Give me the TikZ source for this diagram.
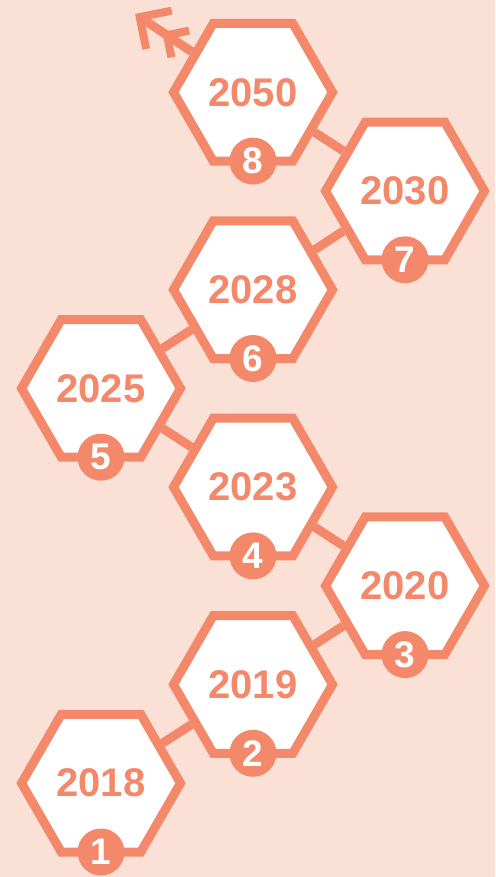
\documentclass[tikz,border=0pt]{standalone}
\usepackage{fontspec}
\setmainfont{Liberation Sans}
\usetikzlibrary{shapes.geometric,arrows.meta,calc}
\definecolor{peach}{HTML}{FBE0D6}
\definecolor{coral}{HTML}{F3896A}

\begin{document}
\begin{tikzpicture}[x=1pt, y=1pt,
    hexbox/.style={regular polygon, regular polygon sides=6,
        minimum size=159pt, inner sep=0pt,
        draw=coral, line width=9pt, fill=white, text=coral,
        font=\fontsize{40}{42}\selectfont\bfseries},
    numdot/.style={circle, fill=coral, minimum size=47pt, inner sep=0pt,
        text=white, font=\fontsize{37}{39}\selectfont\bfseries},
    link/.style={draw=coral, line width=9pt}]
    \fill[peach] (0,0) rectangle (495,877);
    \useasboundingbox (0,0) rectangle (495,877);

    % the years
    \node[hexbox] (h2018) at (101, 93.8) {2018};
    \node[hexbox] (h2019) at (253, 192.5) {2019};
    \node[hexbox] (h2020) at (405, 291.2) {2020};
    \node[hexbox] (h2023) at (253, 389.9) {2023};
    \node[hexbox] (h2025) at (101, 488.6) {2025};
    \node[hexbox] (h2028) at (253, 587.3) {2028};
    \node[hexbox] (h2030) at (405, 686) {2030};
    \node[hexbox] (h2050) at (253, 784.7) {2050};

    % links
    \draw[link] (h2018) -- (h2019);
    \draw[link] (h2019) -- (h2020);
    \draw[link] (h2020) -- (h2023);
    \draw[link] (h2023) -- (h2025);
    \draw[link] (h2025) -- (h2028);
    \draw[link] (h2028) -- (h2030);
    \draw[link] (h2030) -- (h2050);
    \coordinate (ahead) at (135, 863);
    \draw[link, -{Straight Barb[length=16pt,width=32pt,line width=8pt]
        Straight Barb[length=23pt,width=46pt,line width=8pt]}]
        (h2050) -- (ahead);

    % step numbers
    \node[numdot] (n1) at ($(h2018.center)+(0,-68.8)$) {1};
    \node[numdot] (n2) at ($(h2019.center)+(0,-68.8)$) {2};
    \node[numdot] (n3) at ($(h2020.center)+(0,-68.8)$) {3};
    \node[numdot] (n4) at ($(h2023.center)+(0,-68.8)$) {4};
    \node[numdot] (n5) at ($(h2025.center)+(0,-68.8)$) {5};
    \node[numdot] (n6) at ($(h2028.center)+(0,-68.8)$) {6};
    \node[numdot] (n7) at ($(h2030.center)+(0,-68.8)$) {7};
    \node[numdot] (n8) at ($(h2050.center)+(0,-68.8)$) {8};
\end{tikzpicture}
\end{document}
